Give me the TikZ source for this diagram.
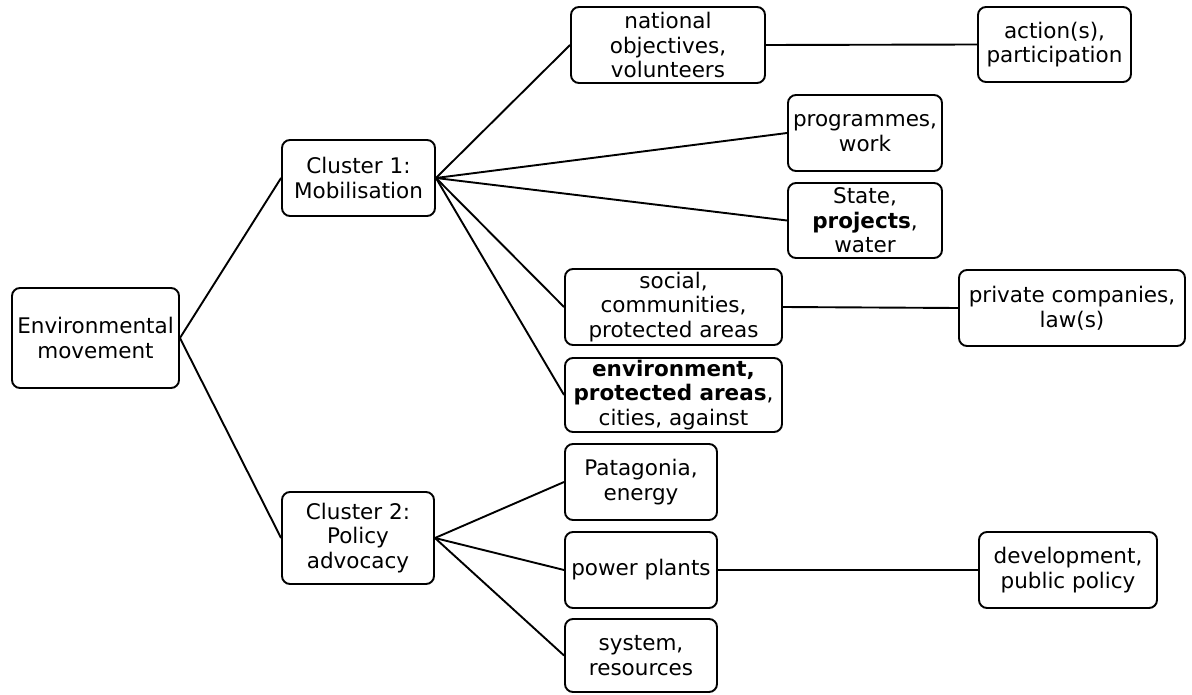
\documentclass[tikz,border=0pt]{standalone}
\usepackage{fontspec}
\setmainfont{DejaVu Sans}
\begin{document}
\begin{tikzpicture}[x=1pt,y=-1pt,
  box/.style={draw=black, line width=1.9pt, rounded corners=8pt, fill=white,
    align=center, inner sep=0pt, font=\fontsize{21.5}{24.5}\selectfont},
  link/.style={draw=black, line width=1.9pt}]
\useasboundingbox (0,0) rectangle (1192,695);
\node[box, minimum width=167pt, minimum height=100pt] (env) at (95.5,338) {Environmental\\movement};
\node[box, minimum width=153pt, minimum height=76pt] (c1) at (358.5,178) {Cluster 1:\\Mobilisation};
\node[box, minimum width=152pt, minimum height=92pt] (c2) at (358,538) {Cluster 2:\\Policy\\advocacy};
\node[box, minimum width=194pt, minimum height=76pt] (nat) at (668,45) {national\\objectives,\\volunteers};
\node[box, minimum width=153pt, minimum height=75pt] (act) at (1054.5,44.5) {action(s),\\participation};
\node[box, minimum width=154pt, minimum height=76pt] (prog) at (865,133) {programmes,\\work};
\node[box, minimum width=154pt, minimum height=75pt] (state) at (865,220.5) {State,\\\textbf{projects},\\water};
\node[box, minimum width=217pt, minimum height=76pt] (soc) at (673.5,307) {social,\\communities,\\protected areas};
\node[box, minimum width=217pt, minimum height=74pt] (envb) at (673.5,395) {\textbf{environment,}\\\textbf{protected areas},\\cities, against};
\node[box, minimum width=226pt, minimum height=76pt] (priv) at (1072,308) {private companies,\\law(s)};
\node[box, minimum width=152pt, minimum height=76pt] (pat) at (641,482) {Patagonia,\\energy};
\node[box, minimum width=152pt, minimum height=76pt] (pow) at (641,570) {power plants};
\node[box, minimum width=152pt, minimum height=73pt] (sys) at (641,655.5) {system,\\resources};
\node[box, minimum width=178pt, minimum height=76pt] (dev) at (1068,570) {development,\\public policy};
\draw[link] (env.east) -- (c1.west);
\draw[link] (env.east) -- (c2.west);
\draw[link] (c1.east) -- (nat.west);
\draw[link] (c1.east) -- (prog.west);
\draw[link] (c1.east) -- (state.west);
\draw[link] (c1.east) -- (soc.west);
\draw[link] (c1.east) -- (envb.west);
\draw[link] (nat.east) -- (act.west);
\draw[link] (soc.east) -- (priv.west);
\draw[link] (c2.east) -- (pat.west);
\draw[link] (c2.east) -- (pow.west);
\draw[link] (c2.east) -- (sys.west);
\draw[link] (pow.east) -- (dev.west);
\end{tikzpicture}
\end{document}
